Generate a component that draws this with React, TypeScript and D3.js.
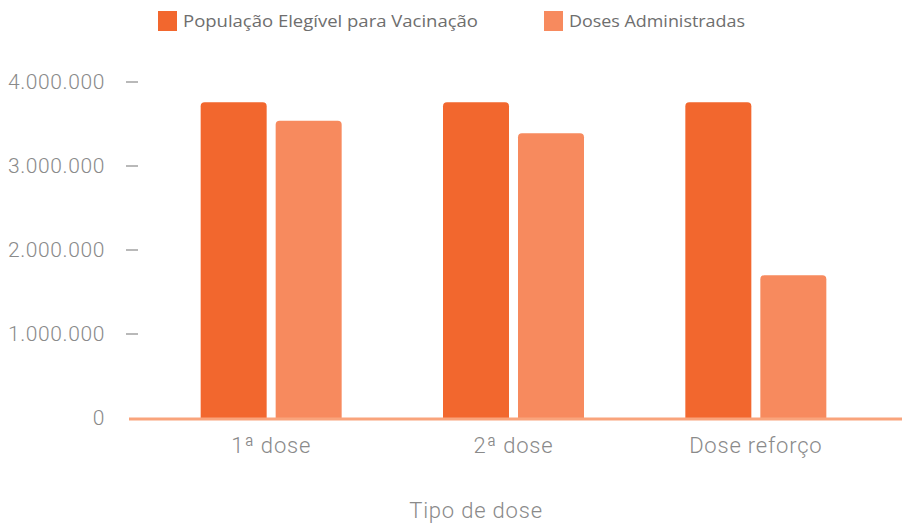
import { useMemo } from "react";
import * as d3 from "d3";

const categories = ["1ª dose", "2ª dose", "Dose reforço"];
const seriesNames = ["População Elegível para Vacinação", "Doses Administradas"];
const eligible = [3760000, 3760000, 3760000];
const administered = [3540000, 3390000, 1700000];
const yTicks = [0, 1000000, 2000000, 3000000, 4000000];
const colors = ["#f2672e", "#f78a5e"];

const W = 902;
const H = 525;
const legendFont = "'Open Sans', Roboto, sans-serif";
const axisFont = "Roboto, 'Open Sans', sans-serif";

const topRounded = (x: number, y: number, w: number, h: number, r: number) =>
  `M${x},${y + h}V${y + r}Q${x},${y} ${x + r},${y}H${x + w - r}Q${x + w},${y} ${x + w},${y + r}V${y + h}Z`;

const fmt = (v: number) => d3.format(",")(v).replace(/,/g, ".");

export default function App() {
  const x = useMemo(
    () => d3.scaleBand().domain(categories).range([150, 877]).paddingInner(0).paddingOuter(0),
    []
  );
  const y = useMemo(() => d3.scaleLinear().domain([0, 4000000]).range([418, 82]), []);
  const barW = 66;
  const gap = 9;
  const series = [eligible, administered];
  const legendX = [158, 544];

  return (
    <svg width={W} height={H} style={{ position: "absolute", left: 0, top: 0 }}>
      {/* legend */}
      {seriesNames.map((n, i) => (
        <g key={n}>
          <rect x={legendX[i]} y={11} width={19} height={20} fill={colors[i]} />
          <text
            x={legendX[i] + 25}
            y={27}
            fontFamily={legendFont}
            fontWeight={500}
            fontSize={16}
            fill="#6e6e6e"
            textLength={i === 0 ? 295 : 176}
            lengthAdjust="spacingAndGlyphs"
          >
            {n}
          </text>
        </g>
      ))}

      {/* y axis */}
      {yTicks.map((t) => (
        <g key={t}>
          <text
            x={105}
            y={y(t)}
            dy="0.35em"
            textAnchor="end"
            fontFamily={axisFont}
            fontWeight={300}
            fontSize={21}
            letterSpacing={0.6}
            fill="#8a8a8a"
          >
            {fmt(t)}
          </text>
          {t > 0 && <line x1={126} x2={138} y1={y(t)} y2={y(t)} stroke="#8a8a8a" strokeWidth={1.2} />}
        </g>
      ))}

      {/* bars */}
      {categories.map((c, ci) => {
        const cx = (x(c) ?? 0) + x.bandwidth() / 2;
        return series.map((s, si) => {
          const bx = si === 0 ? cx - gap / 2 - barW : cx + gap / 2;
          const by = y(s[ci]);
          return (
            <path
              key={c + si}
              d={topRounded(bx, by, barW, y(0) - by, 4)}
              fill={colors[si]}
            />
          );
        });
      })}

      {/* x axis line */}
      <line x1={129} x2={902} y1={419} y2={419} stroke="#f9a47c" strokeWidth={3} />

      {categories.map((c) => (
        <text
          key={c}
          x={(x(c) ?? 0) + x.bandwidth() / 2}
          y={453}
          textAnchor="middle"
          fontFamily={axisFont}
          fontWeight={300}
          fontSize={22}
          letterSpacing={0.8}
          fill="#8a8a8a"
        >
          {c}
        </text>
      ))}

      <text
        x={476}
        y={518}
        textAnchor="middle"
        fontFamily={axisFont}
        fontWeight={300}
        fontSize={22}
        letterSpacing={0.8}
        fill="#8a8a8a"
      >
        Tipo de dose
      </text>
    </svg>
  );
}
